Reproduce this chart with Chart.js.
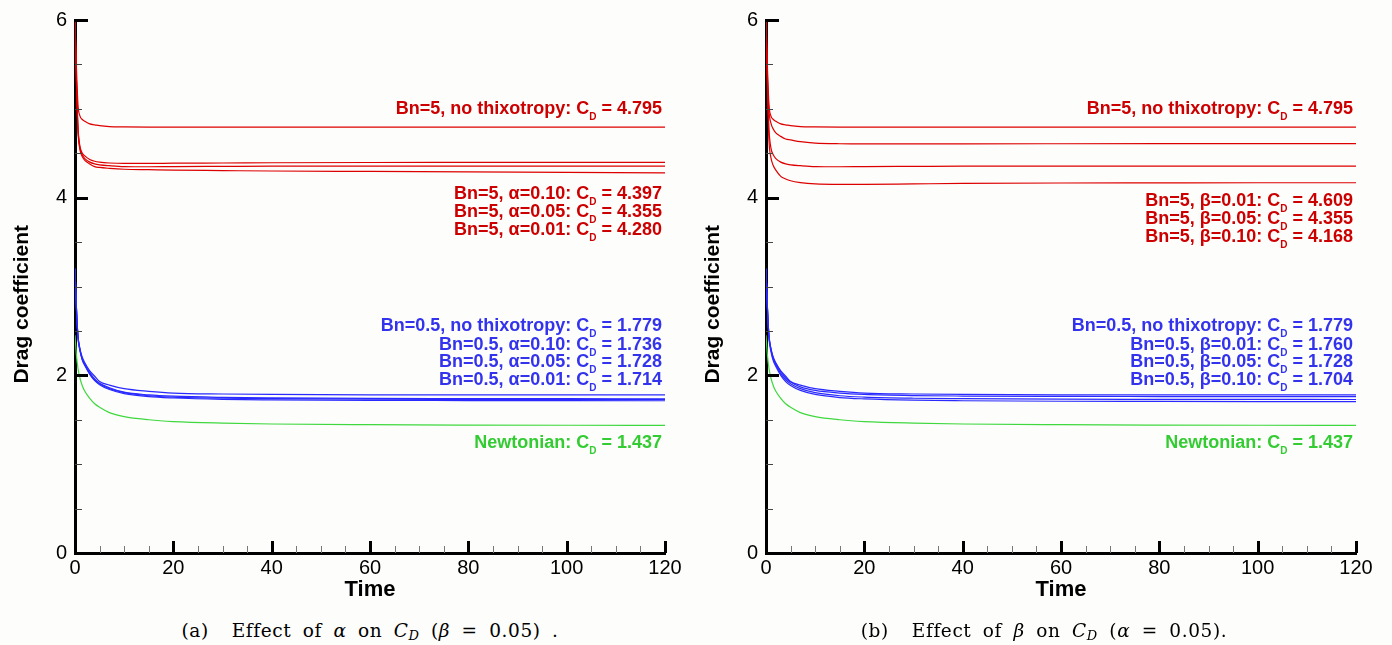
<!DOCTYPE html>
<html>
<head>
<meta charset="utf-8">
<script src="https://cdn.jsdelivr.net/npm/chart.js@4.4.1/dist/chart.umd.min.js"></script>
<style>
  body { margin: 0; background: #fdfdfb; }
  #wrap { position: relative; width: 1392px; height: 645px; overflow: hidden; }
  canvas { position: absolute; top: 0; }
  .cap {
    position: absolute; top: 620px; width: 600px; text-align: center; white-space: nowrap;
    font-family: "DejaVu Serif", serif; font-size: 18.5px; color: #000; line-height: 22px;
    letter-spacing: 0.6px; word-spacing: 5px;
  }
  .cap sub { font-size: 13px; vertical-align: -3px; line-height: 0; }
</style>
</head>
<body>
<div id="wrap">
  <canvas id="chartAlpha" width="696" height="610" style="left:0px"></canvas>
  <canvas id="chartBeta" width="696" height="610" style="left:691px"></canvas>
  <div class="cap" style="left:70px">(a)&nbsp; Effect of <i>α</i> on <i>C<sub>D</sub></i> (<i>β</i> = 0.05) .</div>
  <div class="cap" style="left:744px">(b)&nbsp; Effect of <i>β</i> on <i>C<sub>D</sub></i> (<i>α</i> = 0.05).</div>
</div>
<script>
// temps (abscisse commune)
const time = [0, 0.3, 0.6, 1, 1.5, 2, 3, 4, 5, 7, 10, 15, 20, 30, 40, 60, 80, 100, 120]

// Bn=5
const cdBn5NoThix  = [6.0, 5.45, 5.05, 4.92, 4.88, 4.86, 4.83, 4.82, 4.81, 4.80, 4.797, 4.795, 4.795, 4.795, 4.795, 4.795, 4.795, 4.795, 4.795]
const cdBn5Alpha10 = [6.0, 5.30, 4.80, 4.58, 4.50, 4.47, 4.43, 4.41, 4.40, 4.39, 4.385, 4.385, 4.388, 4.390, 4.393, 4.396, 4.397, 4.397, 4.397]
const cdBn5Alpha05 = [6.0, 5.30, 4.78, 4.56, 4.48, 4.44, 4.40, 4.38, 4.37, 4.36, 4.350, 4.348, 4.350, 4.352, 4.354, 4.355, 4.355, 4.355, 4.355]
const cdBn5Alpha01 = [6.0, 5.28, 4.76, 4.54, 4.46, 4.42, 4.38, 4.35, 4.34, 4.33, 4.320, 4.315, 4.310, 4.305, 4.300, 4.295, 4.290, 4.285, 4.280]
const cdBn5Beta01  = [6.0, 5.35, 4.98, 4.84, 4.77, 4.73, 4.69, 4.66, 4.65, 4.63, 4.615, 4.607, 4.605, 4.605, 4.606, 4.607, 4.608, 4.609, 4.609]
const cdBn5Beta05  = cdBn5Alpha05
const cdBn5Beta10  = [6.0, 5.20, 4.65, 4.45, 4.36, 4.31, 4.24, 4.21, 4.19, 4.17, 4.155, 4.150, 4.150, 4.155, 4.160, 4.165, 4.167, 4.168, 4.168]

// Bn=0.5
const cdBn05NoThix  = [3.2, 2.75, 2.45, 2.30, 2.20, 2.14, 2.05, 1.99, 1.93, 1.89, 1.850, 1.820, 1.800, 1.790, 1.785, 1.781, 1.780, 1.779, 1.779]
const cdBn05Alpha10 = [3.2, 2.74, 2.44, 2.29, 2.18, 2.12, 2.03, 1.96, 1.91, 1.86, 1.810, 1.780, 1.765, 1.752, 1.746, 1.740, 1.738, 1.737, 1.736]
const cdBn05Alpha05 = [3.2, 2.74, 2.44, 2.29, 2.18, 2.12, 2.02, 1.95, 1.905, 1.85, 1.805, 1.770, 1.755, 1.742, 1.737, 1.732, 1.730, 1.729, 1.728]
const cdBn05Alpha01 = [3.2, 2.73, 2.43, 2.28, 2.17, 2.11, 2.01, 1.94, 1.895, 1.84, 1.795, 1.760, 1.745, 1.730, 1.724, 1.718, 1.716, 1.715, 1.714]
const cdBn05Beta01  = [3.2, 2.75, 2.45, 2.30, 2.19, 2.13, 2.04, 1.97, 1.925, 1.87, 1.830, 1.800, 1.785, 1.772, 1.767, 1.763, 1.761, 1.760, 1.760]
const cdBn05Beta05  = cdBn05Alpha05
const cdBn05Beta10  = [3.2, 2.73, 2.42, 2.27, 2.16, 2.10, 2.00, 1.93, 1.885, 1.83, 1.785, 1.750, 1.735, 1.720, 1.714, 1.708, 1.706, 1.705, 1.704]

// Newtonien
const cdNewtonian = [2.45, 2.22, 2.08, 1.97, 1.88, 1.82, 1.74, 1.68, 1.64, 1.58, 1.535, 1.500, 1.480, 1.462, 1.452, 1.444, 1.440, 1.438, 1.437]

// textes des annotations
const notesAlpha = [
  'Bn=5, no thixotropy: C_D = 4.795',
  'Bn=5, α=0.10: C_D = 4.397',
  'Bn=5, α=0.05: C_D = 4.355',
  'Bn=5, α=0.01: C_D = 4.280',
  'Bn=0.5, no thixotropy: C_D = 1.779',
  'Bn=0.5, α=0.10: C_D = 1.736',
  'Bn=0.5, α=0.05: C_D = 1.728',
  'Bn=0.5, α=0.01: C_D = 1.714',
  'Newtonian: C_D = 1.437'
]
const notesBeta = [
  'Bn=5, no thixotropy: C_D = 4.795',
  'Bn=5, β=0.01: C_D = 4.609',
  'Bn=5, β=0.05: C_D = 4.355',
  'Bn=5, β=0.10: C_D = 4.168',
  'Bn=0.5, no thixotropy: C_D = 1.779',
  'Bn=0.5, β=0.01: C_D = 1.760',
  'Bn=0.5, β=0.05: C_D = 1.728',
  'Bn=0.5, β=0.10: C_D = 1.704',
  'Newtonian: C_D = 1.437'
]

// placement vertical des annotations (ligne de base, en unités de l'axe y)
const notesAlphaY = [4.94, 3.99, 3.78, 3.58, 2.50, 2.29, 2.09, 1.89, 1.18]
const notesBetaY  = [4.94, 3.91, 3.70, 3.50, 2.50, 2.29, 2.09, 1.89, 1.18]

const RED = '#dd0000', BLUE = '#2a2aff', GREEN = '#3fd83f'
const TXT_RED = '#cc0000', TXT_BLUE = '#3333ee', TXT_GREEN = '#33cc33'
const noteColors = [TXT_RED, TXT_RED, TXT_RED, TXT_RED, TXT_BLUE, TXT_BLUE, TXT_BLUE, TXT_BLUE, TXT_GREEN]
const SANS = '"Liberation Sans", Arial, Helvetica, sans-serif'

const toPoints = arr => arr.map((v, i) => ({ x: time[i], y: v }))
const serie = (values, color) => ({
  data: toPoints(values),
  borderColor: color,
  borderWidth: 1.2,
  pointRadius: 0,
  fill: false,
  cubicInterpolationMode: 'monotone'
})

// ticks vers l'intérieur, titre y et annotations
const decor = {
  id: 'decor',
  afterDraw(chart, args, opts) {
    const { ctx, chartArea: a, scales: { x, y } } = chart
    ctx.save()

    // ticks axe y
    for (let v = 0.5; v <= 6; v += 0.5) {
      const py = Math.round(y.getPixelForValue(v)) + 0.5
      const major = v % 2 === 0
      ctx.strokeStyle = major ? '#000' : '#444'
      ctx.lineWidth = major ? 3 : 1
      ctx.beginPath()
      ctx.moveTo(a.left, py)
      ctx.lineTo(a.left + (major ? 13 : 7), py)
      ctx.stroke()
    }
    // ticks axe x
    for (let v = 5; v <= 120; v += 5) {
      const px = Math.round(x.getPixelForValue(v)) + 0.5
      const major = v % 20 === 0
      ctx.strokeStyle = major ? '#000' : '#777'
      ctx.lineWidth = major ? 3 : 1
      ctx.beginPath()
      ctx.moveTo(px, a.bottom)
      ctx.lineTo(px, a.bottom - (major ? 12 : 7))
      ctx.stroke()
    }

    // titre de l'axe y
    ctx.fillStyle = '#000'
    ctx.font = 'bold 21px ' + SANS
    ctx.textAlign = 'center'
    ctx.textBaseline = 'middle'
    ctx.translate(22, y.getPixelForValue(2.8))
    ctx.rotate(-Math.PI / 2)
    ctx.fillText('Drag coefficient', 0, 0)
    ctx.setTransform(1, 0, 0, 1, 0, 0)

    // annotations
    const xr = a.right - 3
    ctx.textAlign = 'left'
    ctx.textBaseline = 'alphabetic'
    opts.notes.forEach((txt, i) => {
      const [head, tail] = txt.split('_D')
      const by = y.getPixelForValue(opts.ys[i])
      ctx.fillStyle = noteColors[i]
      ctx.font = 'bold 18px ' + SANS
      const wTail = ctx.measureText(tail).width
      const wHead = ctx.measureText(head).width
      ctx.font = 'bold 10px ' + SANS
      const wSub = ctx.measureText('D').width
      ctx.fillText('D', xr - wTail - wSub, by + 6)
      ctx.font = 'bold 18px ' + SANS
      ctx.fillText(tail, xr - wTail, by)
      ctx.fillText(head, xr - wTail - wSub - wHead, by)
    })
    ctx.restore()
  }
}

function makeChart(id, series, notes, ys) {
  const ctx = document.getElementById(id).getContext('2d')
  return new Chart(ctx, {
    type: 'line',
    data: {
      datasets: series
    },
    options: {
      responsive: false,
      animation: false,
      layout: { padding: { top: 16, right: 31, left: 0, bottom: 0 } },
      plugins: {
        legend: { display: false },
        tooltip: { enabled: false },
        decor: { notes: notes, ys: ys }
      },
      scales: {
        x: {
          type: 'linear',
          min: 0,
          max: 120,
          ticks: { stepSize: 20, padding: 3, color: '#000', maxRotation: 0, font: { family: SANS, size: 20 } },
          grid: { display: false, drawTicks: false },
          border: { color: '#000', width: 3 },
          title: {
            display: true,
            text: 'Time',
            color: '#000',
            font: { family: SANS, size: 22, weight: 'bold' },
            padding: { top: 0, bottom: 7 }
          },
          afterFit(s) { s.height = 57 }
        },
        y: {
          min: 0,
          max: 6,
          ticks: { stepSize: 2, padding: 8, color: '#000', font: { family: SANS, size: 20 } },
          grid: { display: false, drawTicks: false },
          border: { color: '#000', width: 3 },
          afterFit(s) { s.width = 75 }
        }
      }
    },
    plugins: [decor]
  })
}

makeChart('chartAlpha', [
  serie(cdBn5NoThix, RED),
  serie(cdBn5Alpha10, RED),
  serie(cdBn5Alpha05, RED),
  serie(cdBn5Alpha01, RED),
  serie(cdBn05NoThix, BLUE),
  serie(cdBn05Alpha10, BLUE),
  serie(cdBn05Alpha05, BLUE),
  serie(cdBn05Alpha01, BLUE),
  serie(cdNewtonian, GREEN)
], notesAlpha, notesAlphaY)

makeChart('chartBeta', [
  serie(cdBn5NoThix, RED),
  serie(cdBn5Beta01, RED),
  serie(cdBn5Beta05, RED),
  serie(cdBn5Beta10, RED),
  serie(cdBn05NoThix, BLUE),
  serie(cdBn05Beta01, BLUE),
  serie(cdBn05Beta05, BLUE),
  serie(cdBn05Beta10, BLUE),
  serie(cdNewtonian, GREEN)
], notesBeta, notesBetaY)
</script>
</body>
</html>
